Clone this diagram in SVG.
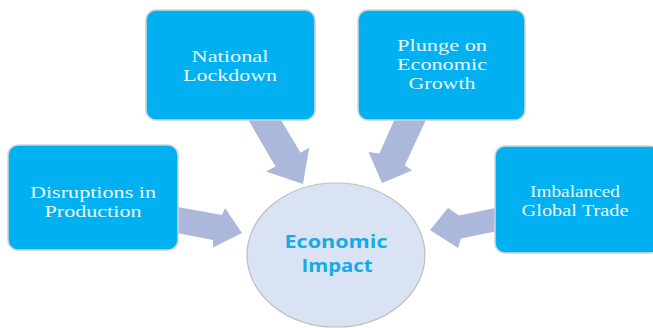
<svg xmlns="http://www.w3.org/2000/svg" width="653" height="328" viewBox="0 0 653 328">
<style>
.box{fill:#00b0f0;stroke:#d4d4d4;stroke-width:1.5}
.arr{fill:#abb7db}
.lbl{font-family:"Liberation Serif","Times New Roman",serif;font-size:17.3px;fill:#eaf6fc;text-anchor:middle}
.ctr{font-family:"Open Sans","Liberation Sans",sans-serif;font-weight:bold;font-size:17.5px;fill:#16aae6;text-anchor:middle}
</style>
<rect width="653" height="328" fill="#ffffff"/>
<g id="connectors">
<polygon class="arr" points="172,206 222,215 225,208 242,233 213,247.5 213,240 172,232"/>
<polygon class="arr" points="270.4,102.2 300.6,152.8 309.2,147.7 303,184 266,171.5 275.5,166.5 246.4,116.6"/>
<polygon class="arr" points="401.9,103 379.4,153.4 368.6,152 382,183 412,170.5 404.8,165.2 428.3,114.8"/>
<polygon class="arr" points="505,206 459,215.5 448,208 430,230 458,248 461,238.5 505,229.5"/>
</g>
<g id="center">
<ellipse cx="336" cy="255" rx="89" ry="72" fill="#dae3f3" stroke="#bdbdbd" stroke-width="1.2"/>
<text class="ctr" x="336" y="248" textLength="103" lengthAdjust="spacingAndGlyphs">Economic</text>
<text class="ctr" x="337" y="272" textLength="71" lengthAdjust="spacingAndGlyphs">Impact</text>
</g>
<g id="disruptions">
<rect class="box" x="8" y="145" width="170" height="105" rx="10"/>
<text class="lbl" x="93" y="198" textLength="126" lengthAdjust="spacingAndGlyphs">Disruptions in</text>
<text class="lbl" x="93" y="217.2" textLength="97" lengthAdjust="spacingAndGlyphs">Production</text>
</g>
<g id="lockdown">
<rect class="box" x="146" y="10" width="169" height="110" rx="10"/>
<text class="lbl" x="230" y="61.5" textLength="77" lengthAdjust="spacingAndGlyphs">National</text>
<text class="lbl" x="230" y="80.7" textLength="94" lengthAdjust="spacingAndGlyphs">Lockdown</text>
</g>
<g id="plunge">
<rect class="box" x="358" y="10" width="167" height="110" rx="10"/>
<text class="lbl" x="442" y="51" textLength="90" lengthAdjust="spacingAndGlyphs">Plunge on</text>
<text class="lbl" x="442" y="70.2" textLength="90" lengthAdjust="spacingAndGlyphs">Economic</text>
<text class="lbl" x="442" y="89.4" textLength="67" lengthAdjust="spacingAndGlyphs">Growth</text>
</g>
<g id="trade">
<rect class="box" x="495" y="146" width="165" height="107" rx="10"/>
<text class="lbl" x="575" y="196.5" textLength="90" lengthAdjust="spacingAndGlyphs">Imbalanced</text>
<text class="lbl" x="575" y="215.7" textLength="107" lengthAdjust="spacingAndGlyphs">Global Trade</text>
</g>
</svg>
